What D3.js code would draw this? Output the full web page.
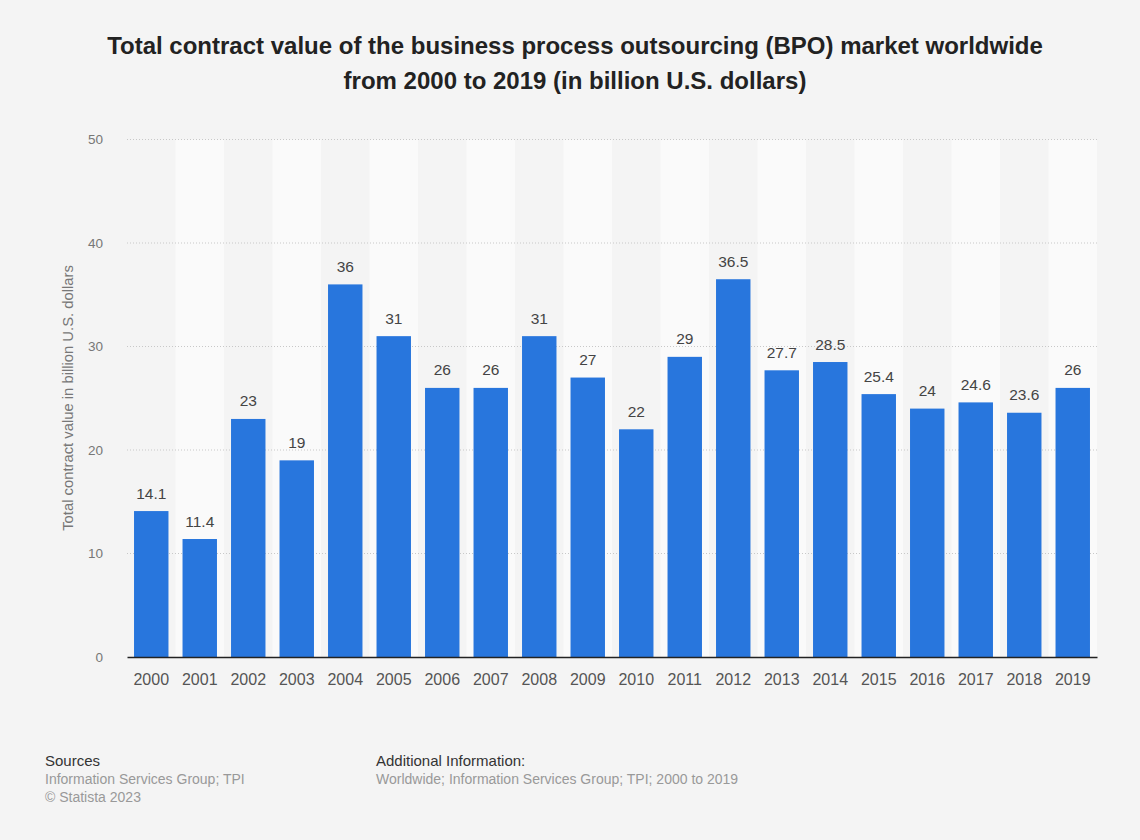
<!DOCTYPE html>
<html>
<head>
<meta charset="utf-8">
<script src="https://cdn.jsdelivr.net/npm/d3@7"></script>
<style>
  html, body { margin: 0; padding: 0; background: #f4f4f4; }
  svg { display: block; font-family: "Liberation Sans", Arial, sans-serif; }
</style>
</head>
<body>
<svg id="chart" width="1140" height="840"></svg>
<script>
const years = ["2000","2001","2002","2003","2004","2005","2006","2007","2008","2009",
               "2010","2011","2012","2013","2014","2015","2016","2017","2018","2019"];
const values = [14.1, 11.4, 23, 19, 36, 31, 26, 26, 31, 27,
                22, 29, 36.5, 27.7, 28.5, 25.4, 24, 24.6, 23.6, 26];
const yTicks = [0, 10, 20, 30, 40, 50];
const titleLines = [
  "Total contract value of the business process outsourcing (BPO) market worldwide",
  "from 2000 to 2019 (in billion U.S. dollars)"
];
const yAxisTitle = "Total contract value in billion U.S. dollars";

const svg = d3.select("#chart");
const W = 1140, H = 840;
svg.append("rect").attr("width", W).attr("height", H).attr("fill", "#f4f4f4");

const plot = { left: 127, right: 1097, top: 139.5, bottom: 657 };

const x = d3.scaleBand().domain(years).range([plot.left, plot.right]).paddingInner(0.29).paddingOuter(0.145);
const xBand = d3.scaleBand().domain(years).range([plot.left, plot.right]).padding(0);
const y = d3.scaleLinear().domain([0, 50]).range([plot.bottom, plot.top]);

// alternating column stripes
svg.append("g").selectAll("rect")
  .data(years.filter((d, i) => i % 2 === 1))
  .join("rect")
  .attr("x", d => xBand(d))
  .attr("y", plot.top)
  .attr("width", xBand.bandwidth())
  .attr("height", plot.bottom - plot.top)
  .attr("fill", "#fafafa");

// gridlines
svg.append("g").selectAll("line")
  .data(yTicks.filter(t => t > 0))
  .join("line")
  .attr("x1", plot.left).attr("x2", plot.right)
  .attr("y1", d => y(d)).attr("y2", d => y(d))
  .attr("stroke", "#c8c8c8")
  .attr("stroke-width", 1)
  .attr("stroke-dasharray", "1,2");

// y axis tick labels
const yAxis = d3.axisLeft(y).tickValues(yTicks).tickSize(0).tickPadding(0);
const yg = svg.append("g").attr("transform", `translate(${plot.left - 24},0)`).call(yAxis);
yg.select(".domain").remove();
yg.selectAll("text")
  .attr("fill", "#777")
  .attr("font-size", 13.5)
  .attr("font-family", "Liberation Sans, Arial, sans-serif");

// bars
svg.append("g").selectAll("rect")
  .data(years.map((yr, i) => ({ yr, v: values[i] })))
  .join("rect")
  .attr("x", d => x(d.yr))
  .attr("y", d => y(d.v))
  .attr("width", x.bandwidth())
  .attr("height", d => y(0) - y(d.v))
  .attr("fill", "#2876dd");

// value labels
svg.append("g").selectAll("text")
  .data(years.map((yr, i) => ({ yr, v: values[i] })))
  .join("text")
  .attr("x", d => x(d.yr) + x.bandwidth() / 2)
  .attr("y", d => y(d.v) - 12.5)
  .attr("text-anchor", "middle")
  .attr("font-size", 15.5)
  .attr("fill", "#444")
  .text(d => d.v);

// x axis
const xAxis = d3.axisBottom(xBand).tickSize(0).tickPadding(17);
const xg = svg.append("g").attr("transform", `translate(0,${plot.bottom})`).call(xAxis);
xg.select(".domain").attr("stroke", "#222").attr("stroke-width", 1.5);
xg.selectAll("text")
  .attr("fill", "#555")
  .attr("font-size", 16)
  .attr("font-family", "Liberation Sans, Arial, sans-serif");

// y axis title
svg.append("text")
  .attr("transform", `translate(73,398) rotate(-90)`)
  .attr("text-anchor", "middle")
  .attr("font-size", 14.8)
  .attr("fill", "#777")
  .text(yAxisTitle);

// title
svg.append("g").selectAll("text")
  .data(titleLines)
  .join("text")
  .attr("x", 575)
  .attr("y", (d, i) => 54 + i * 35)
  .attr("text-anchor", "middle")
  .attr("font-size", 24)
  .attr("font-weight", "bold")
  .attr("fill", "#222")
  .text(d => d);

// footer
const foot = svg.append("g");
foot.append("text").attr("x", 45).attr("y", 766).attr("font-size", 15).attr("fill", "#333").text("Sources");
foot.append("text").attr("x", 45).attr("y", 784).attr("font-size", 14).attr("fill", "#999").text("Information Services Group; TPI");
foot.append("text").attr("x", 45).attr("y", 802).attr("font-size", 14).attr("fill", "#999").text("© Statista 2023");
foot.append("text").attr("x", 376).attr("y", 766).attr("font-size", 15).attr("fill", "#333").text("Additional Information:");
foot.append("text").attr("x", 376).attr("y", 784).attr("font-size", 14).attr("fill", "#999").text("Worldwide; Information Services Group; TPI; 2000 to 2019");
</script>
</body>
</html>
